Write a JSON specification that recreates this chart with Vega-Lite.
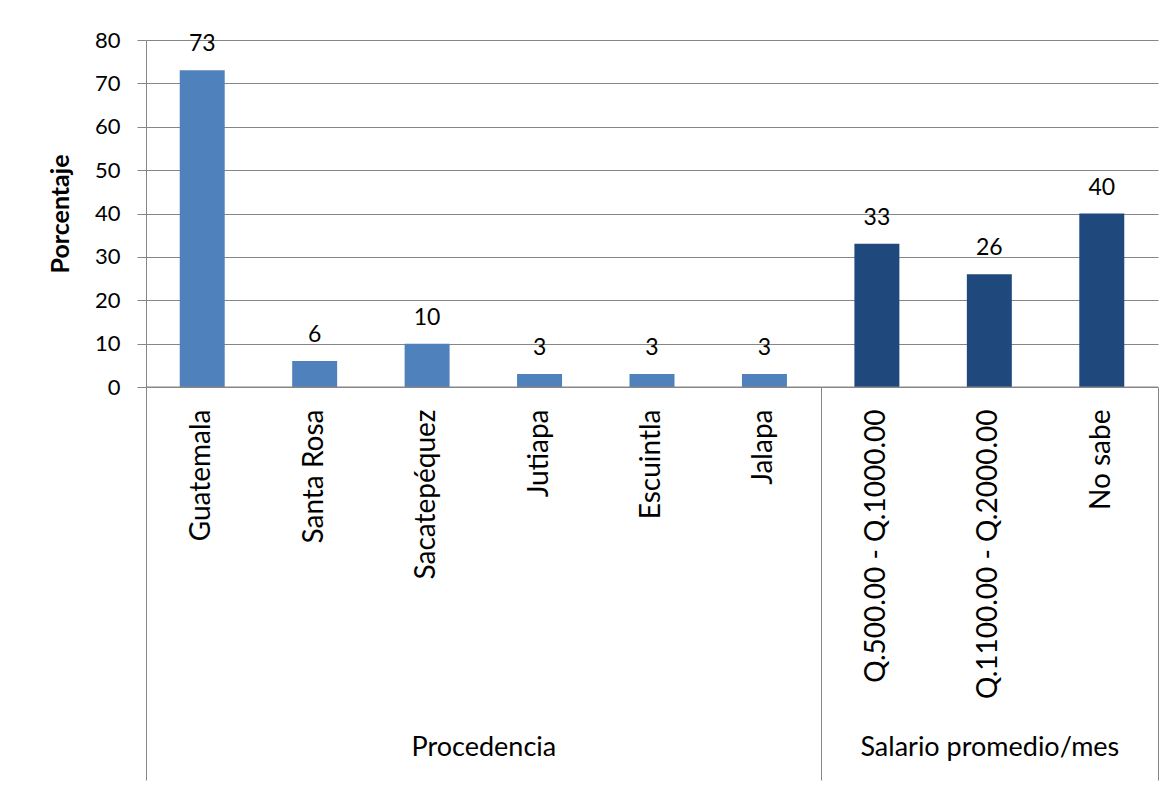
{
  "$schema": "https://vega.github.io/schema/vega-lite/v6.json",
  "width": 1012,
  "height": 347,
  "autosize": {"type": "none"},
  "padding": {"left": 146, "top": 40, "right": 14, "bottom": 399},
  "background": "white",
  "config": {
    "view": {"stroke": null},
    "font": "Lato",
    "axis": {"labelColor": "#000000", "titleColor": "#000000", "labelFont": "Lato", "titleFont": "Lato", "labelLimit": 0}
  },
  "datasets": {
    "respuestas": [
      {"categoria": "Guatemala", "valor": 73, "grupo": "Procedencia"},
      {"categoria": "Santa Rosa", "valor": 6, "grupo": "Procedencia"},
      {"categoria": "Sacatepéquez", "valor": 10, "grupo": "Procedencia"},
      {"categoria": "Jutiapa", "valor": 3, "grupo": "Procedencia"},
      {"categoria": "Escuintla", "valor": 3, "grupo": "Procedencia"},
      {"categoria": "Jalapa", "valor": 3, "grupo": "Procedencia"},
      {"categoria": "Q.500.00 - Q.1000.00", "valor": 33, "grupo": "Salario promedio/mes"},
      {"categoria": "Q.1100.00 - Q.2000.00", "valor": 26, "grupo": "Salario promedio/mes"},
      {"categoria": "No sabe", "valor": 40, "grupo": "Salario promedio/mes"}
    ],
    "grupos": [
      {"grupo": "Procedencia", "inicio": 0, "fin": 6},
      {"grupo": "Salario promedio/mes", "inicio": 6, "fin": 9}
    ]
  },
  "layer": [
    {
      "data": {"name": "respuestas"},
      "encoding": {
        "x": {
          "field": "categoria",
          "type": "nominal",
          "sort": null,
          "scale": {"paddingInner": 0, "paddingOuter": 0},
          "axis": {
            "title": null,
            "orient": "bottom",
            "labelAngle": -90,
            "labelAlign": "right",
            "labelBaseline": "middle",
            "labelFontSize": 28,
            "labelPadding": 22,
            "labelLimit": 0,
            "ticks": false,
            "domain": false,
            "grid": false
          }
        },
        "y": {
          "field": "valor",
          "type": "quantitative",
          "scale": {"domain": [0, 80], "nice": false},
          "axis": {
            "values": [0, 10, 20, 30, 40, 50, 60, 70, 80],
            "grid": true,
            "gridColor": "#868686",
            "domainColor": "#868686",
            "tickColor": "#868686",
            "tickSize": 9,
            "labelPadding": 17,
            "labelFontSize": 22,
            "title": "Porcentaje",
            "titleFontSize": 25,
            "titleFontWeight": "bold",
            "titleAngle": 270,
            "titleAlign": "center",
            "titleBaseline": "alphabetic",
            "titleX": -78,
            "titleY": 173.5
          }
        }
      },
      "layer": [
        {
          "mark": {"type": "bar", "width": {"band": 0.4}},
          "encoding": {
            "color": {
              "field": "grupo",
              "type": "nominal",
              "scale": {"domain": ["Procedencia", "Salario promedio/mes"], "range": ["#4F81BD", "#1F497D"]},
              "legend": null
            }
          }
        },
        {
          "mark": {"type": "text", "dy": -19, "baseline": "alphabetic", "align": "center", "fontSize": 23, "color": "#000000"},
          "encoding": {"text": {"field": "valor", "type": "quantitative"}}
        }
      ]
    },
    {
      "data": {"name": "grupos"},
      "mark": {"type": "rule", "color": "#868686", "strokeWidth": 1},
      "encoding": {
        "x": {
          "field": "inicio",
          "type": "quantitative",
          "scale": {"domain": [0, 9], "nice": false, "zero": false},
          "axis": {
            "orient": "bottom",
            "title": null,
            "values": [0, 3, 6, 7.5, 9],
            "domain": false,
            "grid": false,
            "tickSize": 393,
            "tickColor": "#868686",
            "tickOpacity": {"condition": {"test": "datum.value == 0 || datum.value == 6 || datum.value == 9", "value": 1}, "value": 0},
            "labelExpr": "datum.value == 3 ? 'Procedencia' : datum.value == 7.5 ? 'Salario promedio/mes' : ''",
            "labelFontSize": 27,
            "labelLimit": 0,
            "labelBaseline": "alphabetic",
            "labelPadding": -25,
            "labelFlush": false,
            "labelOverlap": false,
            "labelAngle": 0,
            "labelAlign": "center"
          }
        },
        "x2": {"field": "fin"},
        "y": {"datum": 0}
      }
    }
  ],
  "resolve": {"scale": {"x": "independent"}, "axis": {"x": "independent"}}
}
